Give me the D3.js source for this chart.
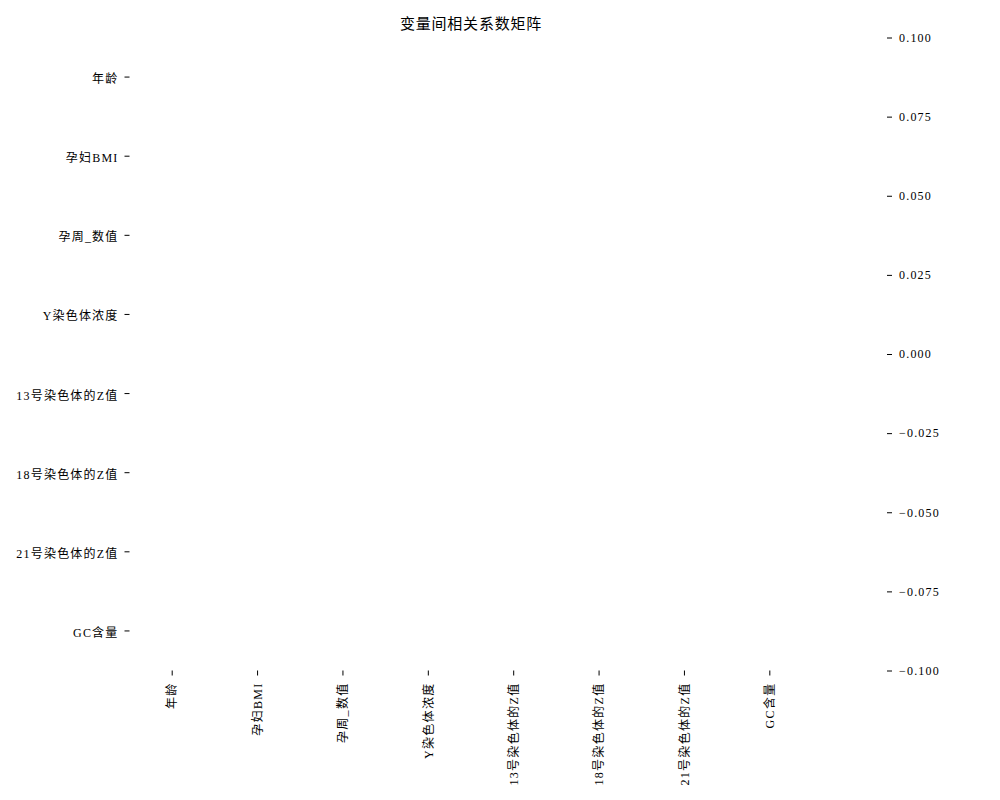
<!DOCTYPE html>
<html><head><meta charset="utf-8">
<script src="https://cdn.jsdelivr.net/npm/d3@7"></script>
<style>
html,body{margin:0;padding:0;background:#fff;}
text{font-family:"Liberation Serif","Noto Sans CJK SC",serif;fill:#000;}
</style></head>
<body>
<svg id="chart" width="1000" height="800"></svg>
<script>
// ---- data ----
const title = "变量间相关系数矩阵";
const variables = ["年龄","孕妇BMI","孕周_数值","Y染色体浓度","13号染色体的Z值","18号染色体的Z值","21号染色体的Z值","GC含量"];
// correlation values: every cell in the reference is blank (NaN)
const corrRow0 = [null,null,null,null,null,null,null,null];
const corrRow1 = [null,null,null,null,null,null,null,null];
const corrRow2 = [null,null,null,null,null,null,null,null];
const corrRow3 = [null,null,null,null,null,null,null,null];
const corrRow4 = [null,null,null,null,null,null,null,null];
const corrRow5 = [null,null,null,null,null,null,null,null];
const corrRow6 = [null,null,null,null,null,null,null,null];
const corrRow7 = [null,null,null,null,null,null,null,null];
const colorbarDomain = [-0.1, 0.1];
const colorbarTicks = [-0.100,-0.075,-0.050,-0.025,0.000,0.025,0.050,0.075,0.100];

const matrix = [corrRow0,corrRow1,corrRow2,corrRow3,corrRow4,corrRow5,corrRow6,corrRow7];

const svg = d3.select("#chart");
const L = 129.5, R = 812.5, T = 37.5, B = 670.5;

const x = d3.scaleBand().domain(variables).range([L, R]);
const y = d3.scaleBand().domain(variables).range([T, B]);
const color = d3.scaleSequential(d3.interpolateRdBu).domain([colorbarDomain[1], colorbarDomain[0]]);

// cells (only non-null values drawn)
const cells = [];
matrix.forEach((row, i) => row.forEach((v, j) => { if (v !== null && !isNaN(v)) cells.push({r: variables[i], c: variables[j], v}); }));
svg.append("g").selectAll("rect").data(cells).join("rect")
  .attr("x", d => x(d.c)).attr("y", d => y(d.r))
  .attr("width", x.bandwidth()).attr("height", y.bandwidth())
  .attr("fill", d => color(d.v));

// axes
const yAxis = svg.append("g").attr("transform", `translate(${L},0)`)
  .call(d3.axisLeft(y).tickSize(5).tickPadding(6));
yAxis.select(".domain").remove();
yAxis.selectAll("text").style("font-size","12px").style("letter-spacing","1.2px")
  .attr("dy","0.5em");

const xAxis = svg.append("g").attr("transform", `translate(0,${B})`)
  .call(d3.axisBottom(x).tickSize(5).tickPadding(6));
xAxis.select(".domain").remove();
xAxis.selectAll("text").style("font-size","12px").style("letter-spacing","1.3px")
  .attr("transform","rotate(-90)")
  .attr("text-anchor","end")
  .attr("x",-12).attr("y",0).attr("dy","0.35em");

// colorbar (empty) with ticks
const cbX = 887;
const cy = d3.scaleLinear().domain(colorbarDomain).range([B, T]);
const cbAxis = svg.append("g").attr("transform", `translate(${cbX},0)`)
  .call(d3.axisRight(cy).tickValues(colorbarTicks).tickFormat(d3.format(".3f")).tickSize(5).tickPadding(7));
cbAxis.select(".domain").remove();
cbAxis.selectAll("text").style("font-size","12px").style("letter-spacing","1.2px");

// title
svg.append("text").attr("x",(L+R)/2).attr("y",29).attr("text-anchor","middle")
  .style("font-size","15px").style("letter-spacing","0.8px").text(title);
</script>
</body></html>
